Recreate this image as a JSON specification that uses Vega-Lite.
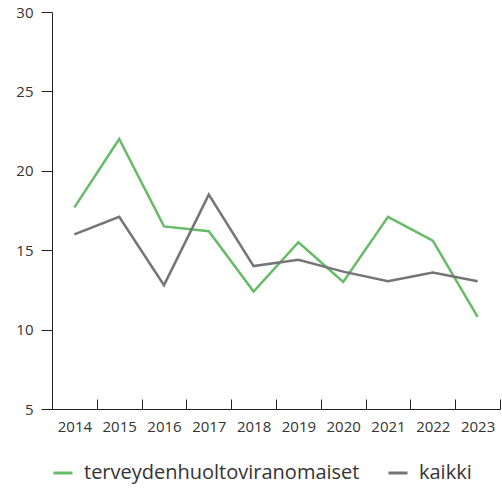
{
  "$schema": "https://vega.github.io/schema/vega-lite/v6.json",
  "width": 448,
  "height": 397,
  "autosize": {"type": "none"},
  "padding": {"left": 52, "top": 12, "right": 2, "bottom": 81},
  "config": {
    "view": {"stroke": null},
    "font": "Open Sans"
  },
  "data": {
    "values": [
      {"vuosi": 2014, "ryhma": "terveydenhuoltoviranomaiset", "arvo": 17.7},
      {"vuosi": 2015, "ryhma": "terveydenhuoltoviranomaiset", "arvo": 22.0},
      {"vuosi": 2016, "ryhma": "terveydenhuoltoviranomaiset", "arvo": 16.5},
      {"vuosi": 2017, "ryhma": "terveydenhuoltoviranomaiset", "arvo": 16.2},
      {"vuosi": 2018, "ryhma": "terveydenhuoltoviranomaiset", "arvo": 12.4},
      {"vuosi": 2019, "ryhma": "terveydenhuoltoviranomaiset", "arvo": 15.5},
      {"vuosi": 2020, "ryhma": "terveydenhuoltoviranomaiset", "arvo": 13.0},
      {"vuosi": 2021, "ryhma": "terveydenhuoltoviranomaiset", "arvo": 17.1},
      {"vuosi": 2022, "ryhma": "terveydenhuoltoviranomaiset", "arvo": 15.6},
      {"vuosi": 2023, "ryhma": "terveydenhuoltoviranomaiset", "arvo": 10.8},
      {"vuosi": 2014, "ryhma": "kaikki", "arvo": 16.0},
      {"vuosi": 2015, "ryhma": "kaikki", "arvo": 17.1},
      {"vuosi": 2016, "ryhma": "kaikki", "arvo": 12.8},
      {"vuosi": 2017, "ryhma": "kaikki", "arvo": 18.5},
      {"vuosi": 2018, "ryhma": "kaikki", "arvo": 14.0},
      {"vuosi": 2019, "ryhma": "kaikki", "arvo": 14.4},
      {"vuosi": 2020, "ryhma": "kaikki", "arvo": 13.65},
      {"vuosi": 2021, "ryhma": "kaikki", "arvo": 13.05},
      {"vuosi": 2022, "ryhma": "kaikki", "arvo": 13.6},
      {"vuosi": 2023, "ryhma": "kaikki", "arvo": 13.05}
    ]
  },
  "mark": {"type": "line", "strokeWidth": 2.5, "interpolate": "linear"},
  "encoding": {
    "x": {
      "field": "vuosi",
      "type": "quantitative",
      "scale": {"domain": [2013.5, 2023.5], "nice": false, "zero": false},
      "axis": {
        "title": null,
        "grid": false,
        "values": [2013.5, 2014, 2014.5, 2015, 2015.5, 2016, 2016.5, 2017, 2017.5, 2018, 2018.5, 2019, 2019.5, 2020, 2020.5, 2021, 2021.5, 2022, 2022.5, 2023, 2023.5],
        "labelExpr": "datum.value % 1 == 0 ? format(datum.value, 'd') : ''",
        "tickOpacity": {"condition": {"test": "datum.value % 1 == 0", "value": 0}, "value": 1},
        "tickSize": -10,
        "tickColor": "#222222",
        "tickWidth": 1,
        "domainColor": "#222222",
        "domainWidth": 1,
        "labelFontSize": 15,
        "labelColor": "#333333",
        "labelPadding": 20,
        "labelFlush": false,
        "labelOverlap": false
      }
    },
    "y": {
      "field": "arvo",
      "type": "quantitative",
      "scale": {"domain": [5, 30], "nice": false, "zero": false},
      "axis": {
        "title": null,
        "grid": false,
        "values": [5, 10, 15, 20, 25, 30],
        "tickSize": 11,
        "tickColor": "#222222",
        "domainColor": "#222222",
        "labelFontSize": 15,
        "labelColor": "#333333",
        "labelPadding": 8
      }
    },
    "color": {
      "field": "ryhma",
      "type": "nominal",
      "sort": ["terveydenhuoltoviranomaiset", "kaikki"],
      "scale": {"domain": ["terveydenhuoltoviranomaiset", "kaikki"], "range": ["#66bb66", "#757478"]},
      "legend": {
        "title": null,
        "orient": "bottom",
        "direction": "horizontal",
        "symbolType": "stroke",
        "symbolSize": 361,
        "symbolStrokeWidth": 3,
        "labelFontSize": 20,
        "labelColor": "#333333",
        "labelLimit": 400,
        "labelOffset": 10,
        "columnPadding": 22,
        "offset": 28
      }
    }
  }
}
